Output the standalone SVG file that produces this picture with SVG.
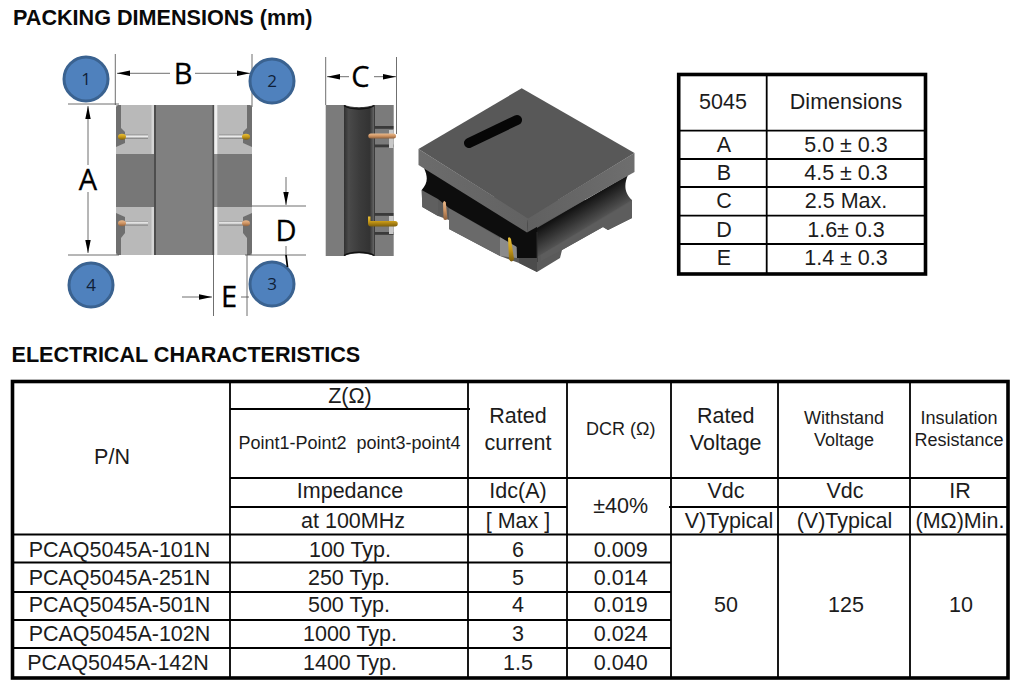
<svg xmlns="http://www.w3.org/2000/svg" width="1016" height="687" viewBox="0 0 1016 687">
<style>
text{font-family:"Liberation Sans",Arial,sans-serif;fill:#1c1c1c;font-size:21.5px;text-anchor:middle;white-space:pre}
.h{font-weight:bold;font-size:21.6px;fill:#0a0a0a;text-anchor:start}
.s{font-size:18px}
.dim{font-family:"Open Sans","Noto Sans",sans-serif;font-size:29px;fill:#000;stroke:#000;stroke-width:.3}
.num{font-family:"Open Sans","Noto Sans",sans-serif;font-size:17px;fill:#0f1f38}
.dl{stroke:#4a4a4a;stroke-width:.8;fill:none}
.ar{marker-end:url(#ah)}
.ln{stroke:#000;fill:none}
.badge{fill:#4f81bd;stroke:#3a6290;stroke-width:3}
</style>
<defs>
<marker id="ah" markerUnits="userSpaceOnUse" markerWidth="13" markerHeight="7" refX="13" refY="3.5" orient="auto"><path d="M0,.8 13,3.5 0,6.2z" fill="#000"/></marker>
<linearGradient id="pinW" x1="0" y1="0" x2="0" y2="1"><stop offset="0" stop-color="#8c8c8c"/><stop offset=".4" stop-color="#f4f4f4"/><stop offset="1" stop-color="#777"/></linearGradient>
<linearGradient id="cu" x1="0" y1="0" x2="0" y2="1"><stop offset="0" stop-color="#e9b98c"/><stop offset=".5" stop-color="#cf9463"/><stop offset="1" stop-color="#8d5f3a"/></linearGradient>
<linearGradient id="au" x1="0" y1="0" x2="0" y2="1"><stop offset="0" stop-color="#e8c03a"/><stop offset=".5" stop-color="#c89a18"/><stop offset="1" stop-color="#7d5e0a"/></linearGradient>
<linearGradient id="sideG" x1="0" y1="0" x2="1" y2="0"><stop offset="0" stop-color="#303030"/><stop offset=".15" stop-color="#4a4a4a"/><stop offset=".5" stop-color="#3c3c3c"/><stop offset=".85" stop-color="#333"/><stop offset="1" stop-color="#6a6a6a"/></linearGradient>
<linearGradient id="coreR" gradientUnits="userSpaceOnUse" x1="575" y1="205" x2="590" y2="230"><stop offset="0" stop-color="#0e0e0e"/><stop offset="1" stop-color="#5e5e5e"/></linearGradient>
<linearGradient id="plateL" x1="0" y1="0" x2="1" y2="0"><stop offset="0" stop-color="#6c6c6c"/><stop offset="1" stop-color="#626262"/></linearGradient>
<linearGradient id="plateR" x1="0" y1="0" x2="1" y2="0"><stop offset="0" stop-color="#606060"/><stop offset="1" stop-color="#6e6e6e"/></linearGradient>
</defs>
<rect width="1016" height="687" fill="#fff"/>

<text class="h" x="13" y="24.5">PACKING DIMENSIONS (mm)</text>
<text class="h" x="11.5" y="361.5">ELECTRICAL CHARACTERISTICS</text>

<g id="top-view">
<rect x="116" y="105" width="136" height="150" rx="2" fill="#777"/>
<rect x="155" y="105" width="58" height="150" fill="#808080"/>
<g fill="#b9b9b9">
<rect x="116" y="105" width="39" height="49"/><rect x="116" y="207" width="39" height="48"/>
<rect x="213" y="105" width="39" height="49"/><rect x="213" y="207" width="39" height="48"/>
</g>
<g fill="#6f6f6f">
<path d="M116,107 118,105H121V128L125,132V143L116,147z"/>
<path d="M116,213 125,217V233L121,238V255H118L116,253z"/>
<path d="M252,107 250,105H247V128L243,132V143L252,147z"/>
<path d="M252,213 243,217V233L247,238V255H250L252,253z"/>
</g>
<rect x="151.500" y="105" width="2.500" height="49" fill="#d6d6d6"/>
<rect x="151.500" y="207" width="2.500" height="48" fill="#d6d6d6"/>
<rect x="154" y="105" width="2" height="150" fill="#4e4e4e"/>
<rect x="212.500" y="105" width="1.800" height="150" fill="#4e4e4e"/>
<rect x="214.300" y="105" width="3" height="49" fill="#f0f0f0"/><rect x="214.300" y="207" width="3" height="48" fill="#f0f0f0"/>
<rect x="214.300" y="154" width="3" height="53" fill="#8f8f8f"/>
<rect x="119" y="134.500" width="29" height="4.500" fill="url(#pinW)"/>
<rect x="219" y="134.500" width="29" height="4.500" fill="url(#pinW)"/>
<rect x="119" y="221" width="29" height="4.500" fill="url(#pinW)"/>
<rect x="219" y="221" width="29" height="4.500" fill="url(#pinW)"/>
<ellipse cx="122" cy="136.800" rx="4" ry="3" fill="url(#au)"/>
<ellipse cx="246" cy="136.800" rx="4" ry="3" fill="url(#au)"/>
<ellipse cx="122" cy="223.300" rx="4" ry="3" fill="url(#cu)"/>
<ellipse cx="246" cy="223.300" rx="4" ry="3" fill="url(#cu)"/>
</g>

<g id="side-view">
<rect x="325.700" y="105" width="68" height="151" fill="#7b7b7b"/>
<rect x="344" y="105" width="30.300" height="151" fill="url(#sideG)"/>
<path d="M344,104.500C350,108 368,108 374.300,104.500z" fill="#fff"/>
<path d="M344,256.500C350,252 368,252 374.300,256.500z" fill="#fff"/>
<path d="M344,105.500C350,110 368,110 374.300,105.500" fill="none" stroke="#111" stroke-width="1.500"/>
<path d="M344,255.500C350,251 368,251 374.300,255.500" fill="none" stroke="#111" stroke-width="1.500"/>
<rect x="374" y="105" width="1" height="151" fill="#3c3c3c"/>
<g fill="#3a3a3a">
<rect x="374.500" y="126" width="19" height="2.800"/><rect x="374.500" y="144.500" width="19" height="2.800"/>
<rect x="374.500" y="213" width="19" height="2.800"/><rect x="374.500" y="232" width="19" height="2.800"/>
</g>
<rect x="389" y="130" width="4.500" height="18" fill="#c8c8c8"/>
<rect x="389" y="216" width="4.500" height="18" fill="#c8c8c8"/>
<rect x="368.300" y="133.500" width="27.700" height="5" rx="2.500" fill="url(#cu)"/>
<path d="M368,216.500h2.500v4.500H395a2.500,2.500 0 0 1 0,5.500H371q-3,0-3-3z" fill="url(#au)"/>
</g>

<g id="iso-view">
<path d="M421.700,190 422.300,207 438,216 449,220V229L500,256 519,263 537,272 560,258 562,250 603,227 608,230 632,218V200L530,200z" fill="#5a5a5a"/>
<path d="M421.700,190 438,199V216L422.300,207z" fill="#5f5f5f"/>
<path d="M449,208 449,229 500,256V238z" fill="#6a6a6a"/>
<path d="M500,237 500,256 517,258 516,244z" fill="#8b8b8b"/>
<path d="M424,168C428,177 428,183 421.700,190L438,199 449,208 500,237 517,247V258L537,258V225z" fill="#0d0d0d"/>
<path d="M537,228 628,175C624,184 624,193 632,200L537,257z" fill="url(#coreR)"/>
<path d="M541,255 632,201V218L608,230 603,227 562,250 541,261z" fill="#5d5d5d"/>
<path d="M537,232V262" stroke="#2a2a2a" stroke-width="1" fill="none"/>
<path d="M519,258 519,263 537,272 537,258z" fill="#4c4c4c"/>
<path d="M418.500,149 418.500,165 527,232.500 528,218z" fill="url(#plateL)"/>
<path d="M528,218 634.500,153 634.500,172 527,232.500z" fill="url(#plateR)"/>
<path d="M418.500,149 521.700,88.300 634.500,153 528,218.500z" fill="#585858"/>
<path d="M469,143 517,120" stroke="#060606" stroke-width="10" stroke-linecap="round" fill="none"/>
<path d="M443,202.500Q444.300,199.500 445.800,202.500L447.500,219Q445,221 443.500,219z" fill="url(#cu)"/>
<path d="M508,238Q509.500,236 511,239L514,259Q511.500,264 509,259z" fill="url(#au)"/>
</g>

<g id="connectors" class="dl">
<path d="M115.300,54V105M252,54V107M68,104H119M68,255H119"/>
<path d="M170,73.300H117" class="dl ar"/>
<path d="M195,73.300H250" class="dl ar"/>
<path d="M88,165V106" class="dl ar"/>
<path d="M88,192V253" class="dl ar"/>
<path d="M252,206H306M245,255H306M213.500,255V316M247,255V316"/>
<path d="M286,177V205" class="dl ar"/>
<path d="M286,246V255"/>
<path d="M182,297H212" class="dl ar"/>
<path d="M241,297H249"/>
<path d="M325.700,57V105M396.500,57V134"/>
<path d="M349,76.700H327" class="dl ar"/>
<path d="M374,76.700H396" class="dl ar"/>
</g>
<g id="dim-labels">
<text class="dim" x="183" y="84">B</text>
<text class="dim" x="88" y="190">A</text>
<text class="dim" x="286" y="241">D</text>
<text class="dim" x="229" y="307">E</text>
<text class="dim" x="360.500" y="87">C</text>
</g>
<g id="badge-1"><circle class="badge" cx="86" cy="79" r="22"/><text class="num" x="86" y="85">1</text></g>
<g id="badge-2"><circle class="badge" cx="272" cy="81" r="22"/><text class="num" x="272" y="87">2</text></g>
<g id="badge-3"><circle class="badge" cx="272" cy="284" r="22"/><text class="num" x="272" y="290">3</text></g>
<g id="badge-4"><circle class="badge" cx="91" cy="285" r="22"/><text class="num" x="91" y="291">4</text></g>
<path d="M286,255 287.500,267" stroke="#000" stroke-width="1.800" fill="none"/>

<g id="dim-table">
<path class="ln" stroke-width="1.800" d="M678,130.700H926M678,159H926M678,187H926M678,215.700H926M678,244H926M766.700,74V274"/>
<rect x="678.700" y="74.500" width="246.800" height="199.500" fill="none" stroke="#000" stroke-width="3.600"/>
<text x="723" y="108.500">5045</text><text x="846" y="108.500">Dimensions</text>
<text x="724" y="151.700">A</text><text x="846" y="151.700">5.0 ± 0.3</text>
<text x="724" y="180">B</text><text x="846" y="180">4.5 ± 0.3</text>
<text x="724" y="207.700">C</text><text x="846" y="207.700">2.5 Max.</text>
<text x="724" y="236.700">D</text><text x="846" y="236.700">1.6± 0.3</text>
<text x="724" y="265">E</text><text x="846" y="265">1.4 ± 0.3</text>
</g>

<g id="electrical-table">
<path class="ln" stroke-width="1.800" d="M230,381V678M468,381V678M567,381V678M671,381V678M778,381V678M910,381V678"/>
<path class="ln" stroke-width="1.800" d="M230,409H470M230,478H1009M230,507H567M669,507H1009M11,534.500H1009M11,562.500H671M11,592H671M11,620H671M11,648H671"/>
<rect x="12.500" y="381.500" width="995.500" height="296.500" fill="none" stroke="#000" stroke-width="3.600"/>
<text x="112" y="464">P/N</text>
<text x="350" y="402.700">Z(Ω)</text>
<text class="s" x="349.500" y="449">Point1-Point2  point3-point4</text>
<text x="350" y="498">Impedance</text>
<text x="353" y="527.700">at 100MHz</text>
<text x="518" y="422.700">Rated</text><text x="518" y="450">current</text>
<text x="518" y="498">Idc(A)</text><text x="518" y="527.700">[ Max ]</text>
<text class="s" x="620.700" y="435">DCR (Ω)</text>
<text x="620.700" y="512.700">±40%</text>
<text x="725.700" y="422.700">Rated</text><text x="725.700" y="450">Voltage</text>
<text x="726" y="498">Vdc</text><text x="729" y="527.700">V)Typical</text>
<text class="s" x="844" y="424">Withstand</text><text class="s" x="844" y="446">Voltage</text>
<text x="845" y="498">Vdc</text><text x="844.500" y="527.700">(V)Typical</text>
<text class="s" x="959" y="424">Insulation</text><text class="s" x="959" y="446">Resistance</text>
<text x="960" y="498">IR</text><text x="960" y="527.700">(MΩ)Min.</text>
<text x="119.500" y="556.700">PCAQ5045A-101N</text><text x="350" y="556.700">100 Typ.</text><text x="518" y="556.700">6</text><text x="620.700" y="556.700">0.009</text>
<text x="119.500" y="585">PCAQ5045A-251N</text><text x="349" y="585">250 Typ.</text><text x="518" y="585">5</text><text x="620.700" y="585">0.014</text>
<text x="119.500" y="612.300">PCAQ5045A-501N</text><text x="349" y="612.300">500 Typ.</text><text x="518" y="612.300">4</text><text x="620.700" y="612.300">0.019</text>
<text x="119.500" y="640.700">PCAQ5045A-102N</text><text x="350" y="640.700">1000 Typ.</text><text x="518" y="640.700">3</text><text x="620.700" y="640.700">0.024</text>
<text x="118" y="670">PCAQ5045A-142N</text><text x="350" y="670">1400 Typ.</text><text x="518" y="670">1.5</text><text x="620.700" y="670">0.040</text>
<text x="726" y="612.300">50</text><text x="846" y="612.300">125</text><text x="961" y="612.300">10</text>
</g>
</svg>
